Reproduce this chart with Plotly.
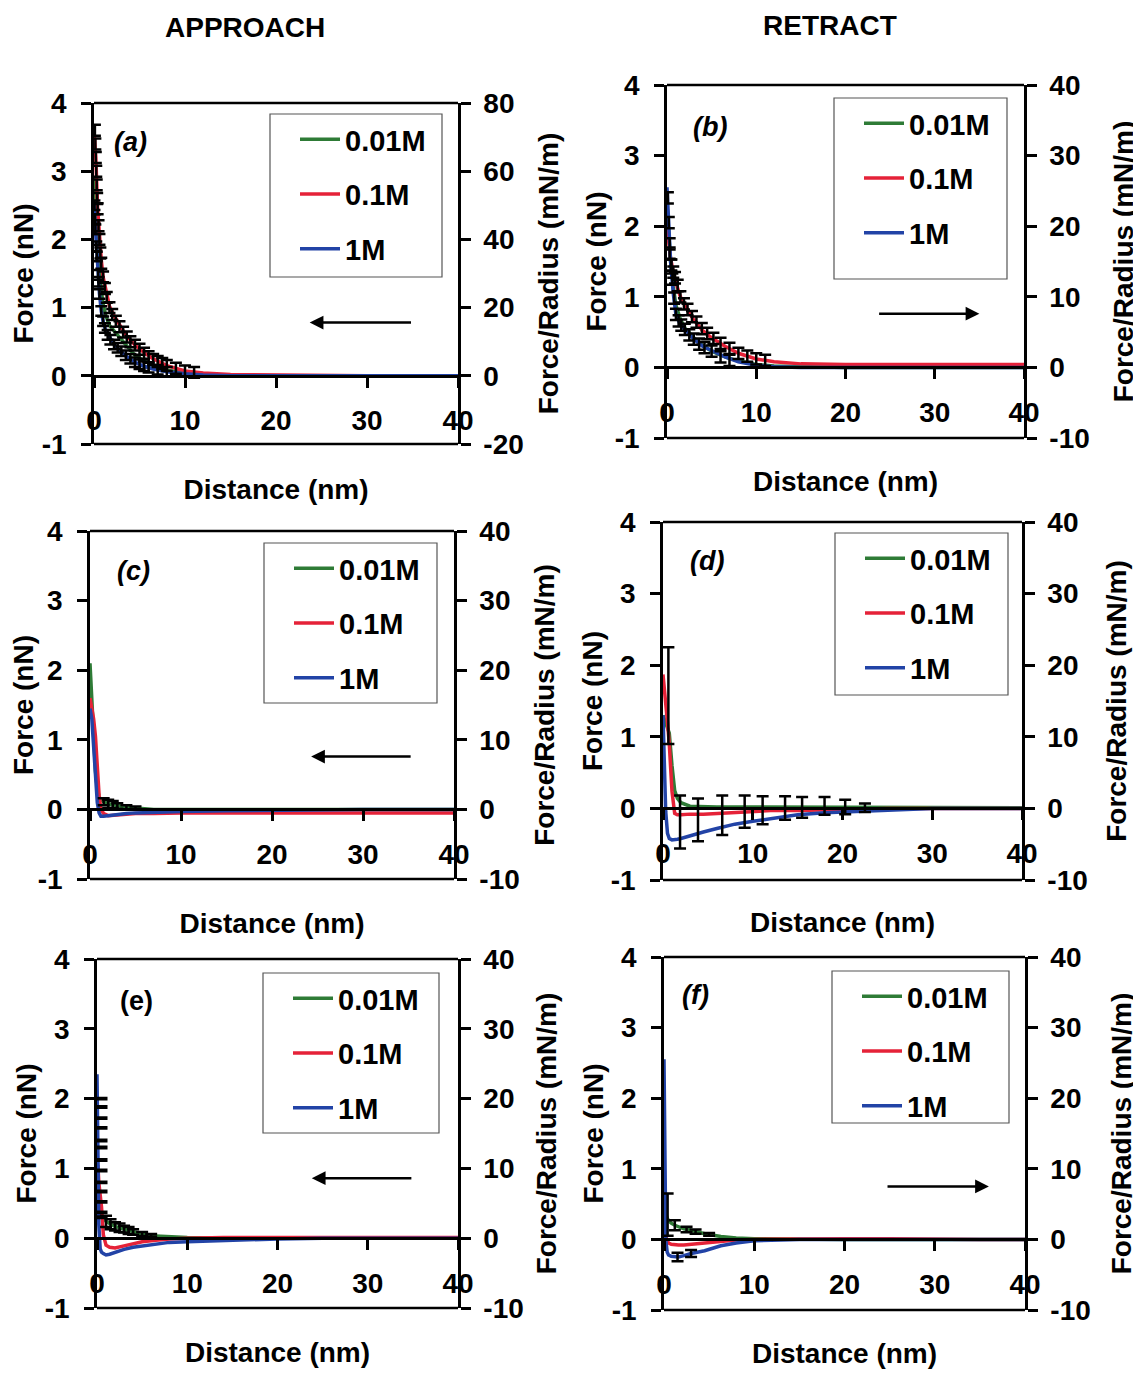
import plotly.graph_objects as go

W, H = 1141, 1378
OFF = 8  # the page body adds an 8 px margin; positions below are measured on the reference
FAM = "Liberation Sans, Arial, sans-serif"
GREEN, RED, BLUE = "#2e7b36", "#e52238", "#2243a6"
names = ["0.01M", "0.1M", "1M"]

x_ticks = [0, 10, 20, 30, 40]
y_ticks = [-1, 0, 1, 2, 3, 4]
y_ticktext = ["-1", "0", "1", "2", "3", "4"]
r_ticks_a = [-20, 0, 20, 40, 60, 80]
r_ticktext_a = ["-20", "0", "20", "40", "60", "80"]
r_ticks = [-10, 0, 10, 20, 30, 40]
r_ticktext = ["-10", "0", "10", "20", "30", "40"]

# ---------------- data ----------------
# (a) approach, 1st system
a_x = [0, 0.2, 0.4, 0.6, 0.8, 1.0, 1.3, 1.7, 2.2, 2.8, 3.5, 4.5, 5.5, 6.5, 8, 10, 12, 15, 20, 25, 30, 35, 40]
a_001 = [2.9, 2.4, 1.9, 1.5, 1.25, 1.05, 0.88, 0.74, 0.66, 0.57, 0.45, 0.3, 0.22, 0.15, 0.08, 0.04, 0.02, 0.01, 0, 0, 0, 0, 0]
a_01 = [3.6, 3.2, 2.45, 2.0, 1.7, 1.45, 1.25, 1.02, 0.88, 0.75, 0.6, 0.45, 0.34, 0.25, 0.15, 0.07, 0.04, 0.02, 0.01, 0.01, 0, 0, 0]
a_1 = [2.5, 2.0, 1.55, 1.2, 0.95, 0.8, 0.66, 0.56, 0.46, 0.38, 0.29, 0.2, 0.14, 0.1, 0.06, 0.03, 0.01, 0, 0, 0, 0, 0, 0]
a_ex = [0.1, 0.15, 0.2, 0.25, 0.3, 0.35, 0.4, 0.5, 0.6, 0.7, 0.8, 1.0, 1.2, 1.4, 1.7, 2.0, 2.4, 2.8, 3.2, 3.6,
        4.0, 4.5, 5.0, 5.5, 6.0, 6.5, 7.0, 7.5, 8.0, 9.0, 10.0, 11.0,
        0.05, 0.1, 0.15, 0.25, 0.3, 0.45, 0.5, 0.6, 0.8, 1.0, 1.2, 1.5, 1.8, 2.2, 2.6, 3.0, 3.5, 4.0, 4.5, 5.0,
        5.5, 6.0, 7.0, 8.0]
a_ey = [3.6, 3.4, 3.2, 3.0, 2.8, 2.6, 2.45, 2.2, 2.0, 1.8, 1.65, 1.45, 1.28, 1.15, 1.0, 0.9, 0.8, 0.72, 0.64, 0.57,
        0.5, 0.45, 0.39, 0.33, 0.28, 0.24, 0.21, 0.18, 0.15, 0.11, 0.07, 0.05,
        2.5, 2.3, 2.15, 1.9, 1.75, 1.48, 1.38, 1.2, 0.95, 0.8, 0.7, 0.6, 0.53, 0.46, 0.41, 0.36, 0.3, 0.25, 0.2, 0.17,
        0.14, 0.12, 0.09, 0.06]
a_eu = [0.08] * 32 + [0.07] * 24
a_ed = [0.08] * 32 + [0.07] * 24

# (b) retract, 1st system
b_x = [0, 0.2, 0.4, 0.7, 1.0, 1.5, 2.0, 3.0, 4.0, 5.0, 6.5, 8, 10, 12, 15, 20, 25, 30, 35, 40]
b_001 = [2.3, 1.9, 1.5, 1.15, 0.88, 0.68, 0.56, 0.42, 0.31, 0.23, 0.15, 0.09, 0.04, 0.02, 0.01, 0, 0, 0, 0, 0]
b_01 = [2.0, 1.75, 1.55, 1.35, 1.2, 1.0, 0.88, 0.67, 0.52, 0.42, 0.3, 0.2, 0.12, 0.08, 0.05, 0.04, 0.04, 0.04, 0.04, 0.04]
b_1 = [2.55, 2.0, 1.5, 1.05, 0.75, 0.6, 0.54, 0.4, 0.3, 0.24, 0.15, 0.08, 0.03, 0.01, 0, 0, 0, 0, 0, 0]
b_ex = [0.3, 0.5, 0.7, 0.9, 1.2, 1.5, 1.9, 2.3, 2.8, 3.3, 3.9, 4.5, 5.2, 6.0, 7.0, 8.0, 9.0, 10.0, 11.0,
        0.1, 0.2, 0.3, 0.45, 0.6, 0.8, 1.0, 1.3, 1.6, 2.0, 2.5, 3.0, 3.6, 4.2, 5.0, 6.0, 7.0]
b_ey = [1.62, 1.45, 1.35, 1.27, 1.16, 1.0, 0.9, 0.82, 0.72, 0.64, 0.55, 0.48, 0.41, 0.34, 0.27, 0.2, 0.16, 0.12, 0.1,
        2.4, 2.05, 1.75, 1.45, 1.25, 0.98, 0.75, 0.66, 0.6, 0.54, 0.46, 0.4, 0.33, 0.28, 0.23, 0.15, 0.1]
b_eu = [0.08] * 36
b_ed = [0.08] * 36

# (c) approach, 2nd system
c_x = [0, 0.2, 0.4, 0.6, 0.8, 1.0, 1.2, 1.5, 2.0, 3.0, 4.0, 5.0, 7.0, 10, 15, 20, 25, 30, 35, 40]
c_001 = [2.1, 1.5, 0.95, 0.55, 0.3, 0.18, 0.14, 0.11, 0.08, 0.05, 0.03, 0.02, 0, 0, 0, 0, 0, 0, 0, 0]
c_01 = [1.6, 1.45, 1.3, 1.05, 0.55, 0.2, 0.0, -0.06, -0.09, -0.08, -0.07, -0.06, -0.06, -0.05, -0.05, -0.05, -0.05,
        -0.05, -0.05, -0.05]
c_1 = [1.45, 1.3, 0.9, 0.45, 0.1, -0.05, -0.1, -0.1, -0.09, -0.08, -0.06, -0.05, -0.04, -0.03, -0.02, -0.01, 0, 0, 0, 0]
c_ex = [1.5, 2.0, 2.5, 3.0, 4.0, 5.0]
c_ey = [0.11, 0.08, 0.07, 0.05, 0.03, 0.02]
c_eu = [0.05, 0.06, 0.05, 0.04, 0.03, 0.02]
c_ed = [0.05, 0.06, 0.05, 0.04, 0.03, 0.02]

# (d) retract, 2nd system
d_x = [0, 0.15, 0.3, 0.5, 0.7, 1.0, 1.3, 1.6, 2.0, 3.0, 4.5, 6, 8, 10, 12, 15, 18, 20, 25, 30, 35, 40]
d_001 = [1.3, 1.25, 1.2, 1.1, 1.05, 0.6, 0.25, 0.14, 0.08, 0.03, 0.02, 0.02, 0.02, 0.02, 0.01, 0.01, 0.01, 0.01, 0.01,
         0.01, 0.01, 0.01]
d_01 = [1.87, 1.7, 1.45, 1.2, 0.9, 0.24, -0.07, -0.09, -0.09, -0.08, -0.08, -0.07, -0.05, -0.04, -0.03, -0.03, -0.02,
        -0.01, 0, 0, 0, 0]
d_1 = [1.3, 0.6, -0.04, -0.35, -0.42, -0.44, -0.44, -0.43, -0.42, -0.38, -0.33, -0.28, -0.22, -0.18, -0.14, -0.09,
       -0.06, -0.05, -0.02, 0, 0, 0]
d_ex = [0.6, 1.9, 3.9, 6.6, 9.1, 11.1, 13.6, 15.5, 18, 20.3, 22.5]
d_ey = [1.08, -0.42, -0.36, -0.27, -0.19, -0.16, -0.11, -0.09, -0.06, -0.05, -0.03]
d_eu = [1.17, 0.6, 0.5, 0.45, 0.37, 0.33, 0.28, 0.25, 0.22, 0.17, 0.1]
d_ed = [0.18, 0.14, 0.1, 0.1, 0.08, 0.06, 0.05, 0.04, 0.03, 0.03, 0.02]

# (e) approach, 3rd system
e_x = [0, 0.1, 0.2, 0.35, 0.5, 0.7, 1.0, 1.4, 2.0, 3.0, 4.0, 5.0, 6.5, 8, 10, 14, 20, 25, 30, 35, 40]
e_001 = [0.45, 0.4, 0.36, 0.33, 0.31, 0.28, 0.24, 0.21, 0.17, 0.13, 0.09, 0.06, 0.03, 0.02, 0.01, 0, 0, 0, 0, 0, 0]
e_01 = [0.9, 1.05, 0.8, 0.6, 0.45, 0.05, -0.1, -0.13, -0.14, -0.11, -0.08, -0.05, -0.03, -0.01, 0, 0.01, 0.01, 0.01,
        0.01, 0.01, 0.01]
e_1 = [2.35, 1.2, 0.2, -0.15, -0.2, -0.22, -0.24, -0.23, -0.2, -0.16, -0.13, -0.11, -0.08, -0.06, -0.05, -0.03, -0.01,
       0, 0, 0, 0]
e_ex = [0.5] * 13 + [1.0, 1.5, 2.0, 2.5, 3.0, 3.5, 4.0, 5.0, 6.0]
e_ey = [2.0, 1.88, 1.72, 1.58, 1.4, 1.3, 1.12, 0.97, 0.8, 0.67, 0.52, 0.37, 0.3,
        0.24, 0.2, 0.17, 0.15, 0.13, 0.11, 0.09, 0.06, 0.04]
e_eu = [0.01] * 13 + [0.08, 0.07, 0.06, 0.06, 0.05, 0.05, 0.04, 0.03, 0.02]
e_ed = [0.01] * 13 + [0.08, 0.07, 0.06, 0.06, 0.05, 0.05, 0.04, 0.03, 0.02]

# (f) retract, 3rd system
f_x = [0, 0.1, 0.2, 0.35, 0.5, 0.8, 1.2, 1.6, 2.2, 3.0, 4.5, 6.3, 8, 10, 15, 20, 25, 30, 35, 40]
f_001 = [0.45, 0.4, 0.35, 0.3, 0.27, 0.23, 0.2, 0.18, 0.15, 0.13, 0.08, 0.04, 0.02, 0.01, 0, 0, 0, 0, 0, 0]
f_01 = [0.3, 0.15, 0.05, -0.02, -0.05, -0.07, -0.08, -0.08, -0.08, -0.07, -0.06, -0.03, -0.01, 0, 0.01, 0.01, 0.01, 0,
        0, 0]
f_1 = [2.55, 0.8, 0.0, -0.18, -0.22, -0.24, -0.25, -0.25, -0.23, -0.2, -0.16, -0.09, -0.05, -0.02, 0, 0, 0, 0, 0, 0]
f_ex = [0.4, 1.2, 2.5, 3.5, 5.0, 1.5, 3.0]
f_ey = [0.35, 0.2, 0.14, 0.11, 0.07, -0.25, -0.2]
f_eu = [0.3, 0.07, 0.04, 0.03, 0.02, 0.06, 0.05]
f_ed = [0.3, 0.07, 0.04, 0.03, 0.02, 0.06, 0.05]

# ---------------- panel layout (pixels on the reference) ----------------
panels = [
    dict(tag="(a)", x=a_x, ys=[a_001, a_01, a_1], ex=a_ex, ey=a_ey, eu=a_eu, ed=a_ed,
         px=(94, 458), py=(103, 444), r=(-20, 80), rt=(r_ticks_a, r_ticktext_a), box=(270, 442, 114, 277),
         lab=(4.0, 3.43), arrow=(23.7, 35, 0.78), italic=True, rso=16),
    dict(tag="(b)", x=b_x, ys=[b_001, b_01, b_1], ex=b_ex, ey=b_ey, eu=b_eu, ed=b_ed,
         px=(667, 1024), py=(85, 438), r=(-10, 40), rt=(r_ticks, r_ticktext), box=(834, 1007, 98, 279),
         lab=(4.8, 3.4), arrow=(35, 23.6, 0.76), italic=True, rso=25),
    dict(tag="(c)", x=c_x, ys=[c_001, c_01, c_1], ex=c_ex, ey=c_ey, eu=c_eu, ed=c_ed,
         px=(90, 454), py=(531, 879), r=(-10, 40), rt=(r_ticks, r_ticktext), box=(264, 437, 543, 703),
         lab=(4.8, 3.43), arrow=(24.3, 35.4, 0.76), italic=True, rso=16),
    dict(tag="(d)", x=d_x, ys=[d_001, d_01, d_1], ex=d_ex, ey=d_ey, eu=d_eu, ed=d_ed,
         px=(663, 1022), py=(522, 880), r=(-10, 40), rt=(r_ticks, r_ticktext), box=(835, 1008, 533, 695),
         lab=(4.9, 3.45), arrow=None, italic=True, rso=20),
    dict(tag="(e)", x=e_x, ys=[e_001, e_01, e_1], ex=e_ex, ey=e_ey, eu=e_eu, ed=e_ed,
         px=(97, 458), py=(959, 1308), r=(-10, 40), rt=(r_ticks, r_ticktext), box=(263, 439, 973, 1133),
         lab=(4.4, 3.4), arrow=(23.8, 35, 0.86), italic=False, rso=14),
    dict(tag="(f)", x=f_x, ys=[f_001, f_01, f_1], ex=f_ex, ey=f_ey, eu=f_eu, ed=f_ed,
         px=(664, 1025), py=(957, 1310), r=(-10, 40), rt=(r_ticks, r_ticktext), box=(832, 1009, 971, 1123),
         lab=(3.5, 3.46), arrow=(36, 24.6, 0.75), italic=True, rso=22),
]


def fx(px):
    return (px - OFF) / W


def fy(py):
    return 1 - (py - OFF) / H


fig = go.Figure()
font = dict(family=FAM, size=28, color="black", weight="bold")
tickfont = dict(family=FAM, size=28, color="black", weight="bold")
layout = dict(width=W, height=H, margin=dict(l=0, r=0, t=0, b=0, autoexpand=False),
              paper_bgcolor="white", plot_bgcolor="white", showlegend=True)
shapes, annotations = [], []

for i, p in enumerate(panels, start=1):
    xs = "" if i == 1 else str(i)
    xd = [fx(p["px"][0]), fx(p["px"][1])]
    yd = [fy(p["py"][1]), fy(p["py"][0])]
    zero_pos = yd[0] + (yd[1] - yd[0]) * 0.2
    leg = "legend" if i == 1 else f"legend{i}"

    for name, yv, col in zip(names, p["ys"], [GREEN, RED, BLUE]):
        fig.add_trace(go.Scatter(x=p["x"], y=yv, mode="lines", name=name,
                                 line=dict(color=col, width=3.5),
                                 xaxis=f"x{xs}", yaxis=f"y{xs}", legend=leg,
                                 legendgroup=f"{i}{name}"))
    fig.add_trace(go.Scatter(x=p["ex"], y=p["ey"], mode="markers", showlegend=False,
                             marker=dict(size=2, color="rgba(0,0,0,0)"),
                             error_y=dict(type="data", symmetric=False, array=p["eu"],
                                          arrayminus=p["ed"], color="black", thickness=2.5, width=6),
                             xaxis=f"x{xs}", yaxis=f"y{xs}"))
    # empty trace so the right-hand (Force/Radius) axis is drawn
    fig.add_trace(go.Scatter(x=[], y=[], showlegend=False, hoverinfo="skip",
                             xaxis=f"x{xs}", yaxis=f"y{i + 6}"))

    layout[f"xaxis{xs}"] = dict(domain=xd, range=[0, 40], anchor="free", position=zero_pos,
                                showline=True, linecolor="black", linewidth=2.5,
                                ticks="outside", ticklen=10, tickwidth=2.5, tickcolor="black",
                                tickvals=x_ticks, tickfont=tickfont,
                                ticklabelstandoff=9, showgrid=False, zeroline=False,
                                title=dict(text="Distance (nm)", font=font, standoff=44))
    layout[f"yaxis{xs}"] = dict(domain=yd, range=[-1, 4], anchor=f"x{xs}",
                                tickvals=y_ticks, ticktext=y_ticktext,
                                showline=True, linecolor="black", linewidth=2.5,
                                ticks="outside", ticklen=10, tickwidth=2.5, tickcolor="black",
                                tickfont=tickfont, ticklabelstandoff=9,
                                showgrid=False, zeroline=False,
                                title=dict(text="Force (nN)", font=font, standoff=0))
    layout[f"yaxis{i + 6}"] = dict(overlaying=f"y{xs}", side="right", anchor=f"x{xs}",
                                   range=list(p["r"]), tickvals=p["rt"][0], ticktext=p["rt"][1],
                                   showline=True, linecolor="black", linewidth=2.5,
                                   ticks="outside", ticklen=10, tickwidth=2.5, tickcolor="black",
                                   tickfont=tickfont, ticklabelstandoff=7,
                                   showgrid=False, zeroline=False,
                                   title=dict(text="Force/Radius (mN/m)", font=font, standoff=p["rso"]))

    # top and bottom frame lines
    for yy in (0, 1):
        shapes.append(dict(type="line", xref=f"x{xs} domain", yref=f"y{xs} domain",
                           x0=0, x1=1, y0=yy, y1=yy, line=dict(color="black", width=2.5)))
    # legend box
    bx0, bx1, by0, by1 = p["box"]
    shapes.append(dict(type="rect", xref="paper", yref="paper",
                       x0=fx(bx0), x1=fx(bx1), y0=fy(by1), y1=fy(by0),
                       line=dict(color="#555555", width=1.2), fillcolor="white", layer="below"))
    layout[leg] = dict(x=fx(bx0 + 25), y=fy(by0), xanchor="left", yanchor="top",
                       font=dict(family=FAM, size=29, color="black", weight="bold"),
                       bgcolor="rgba(0,0,0,0)", borderwidth=0, traceorder="grouped",
                       tracegroupgap=14, itemwidth=40)

    annotations.append(dict(text=p["tag"], x=p["lab"][0], y=p["lab"][1], xref=f"x{xs}", yref=f"y{xs}",
                            showarrow=False,
                            font=dict(family=FAM, size=27, color="black", weight="bold",
                                      style="italic" if p["italic"] else "normal")))
    if p["arrow"]:
        hx, tx, ay = p["arrow"]
        annotations.append(dict(text="", x=hx, y=ay, ax=tx, ay=ay, xref=f"x{xs}", yref=f"y{xs}",
                                axref=f"x{xs}", ayref=f"y{xs}", showarrow=True,
                                arrowhead=2, arrowsize=1.1, arrowwidth=2.5, arrowcolor="black"))

annotations.append(dict(text="APPROACH", x=fx(245), y=fy(28), xref="paper", yref="paper",
                        xanchor="center", yanchor="middle", showarrow=False, font=font))
annotations.append(dict(text="RETRACT", x=fx(830), y=fy(25), xref="paper", yref="paper",
                        xanchor="center", yanchor="middle", showarrow=False, font=font))

layout["shapes"] = shapes
layout["annotations"] = annotations
fig.update_layout(**layout)

fig.write_html("out.html")
